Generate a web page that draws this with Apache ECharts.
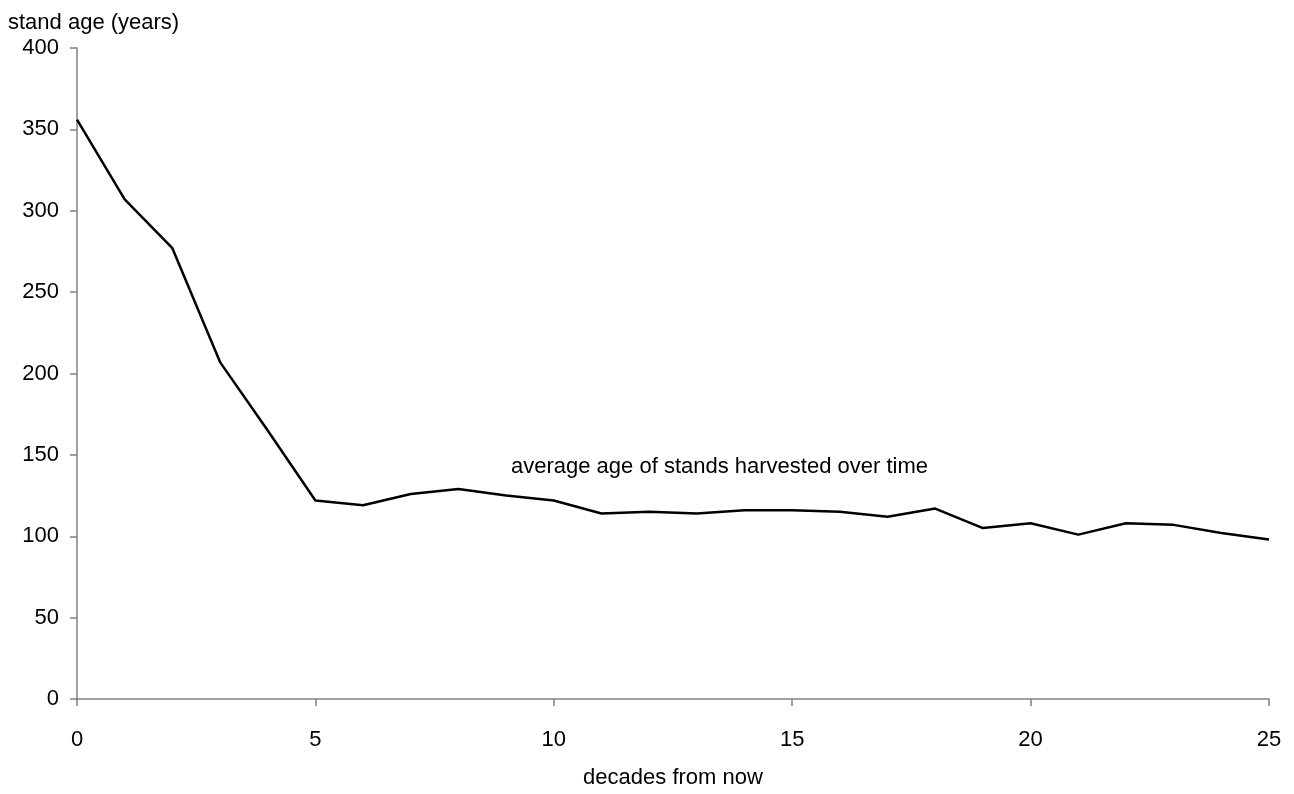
<!DOCTYPE html>
<html>
<head>
<meta charset="utf-8">
<script src="https://cdn.jsdelivr.net/npm/echarts@6/dist/echarts.min.js"></script>
<style>html,body{margin:0;padding:0;background:#fff}#c{width:1294px;height:794px}</style>
</head>
<body>
<div id="c"></div>
<script>
const decades = [0,1,2,3,4,5,6,7,8,9,10,11,12,13,14,15,16,17,18,19,20,21,22,23,24,25];
const standAge = [356,307,277,207,165,122,119,126,129,125,122,114,115,114,116,116,115,112,117,105,108,101,108,107,102,98];
const xTitle = 'decades from now';
const yTitle = 'stand age (years)';
const seriesLabel = 'average age of stands harvested over time';

const font = '"Liberation Sans", Arial, sans-serif';
const fs = 22;
const chart = echarts.init(document.getElementById('c'), null, {renderer:'canvas'});
chart.setOption({
  animation: false,
  backgroundColor: '#fff',
  grid: {left: 77, right: 25, top: 48, bottom: 92, containLabel: false},
  xAxis: {
    type: 'value', min: 0, max: 25, interval: 5,
    name: xTitle, nameLocation: 'middle', nameGap: 68,
    nameTextStyle: {color: '#000', fontSize: fs, fontFamily: font},
    axisLine: {lineStyle: {color: '#808080', width: 1.5}},
    axisTick: {show: true, length: 7, lineStyle: {color: '#808080', width: 1.5}},
    axisLabel: {color: '#000', fontSize: fs, fontFamily: font, margin: 30},
    splitLine: {show: false}
  },
  yAxis: {
    type: 'value', min: 0, max: 400, interval: 50,
    axisLine: {show: true, lineStyle: {color: '#808080', width: 1.5}},
    axisTick: {show: true, length: 7, lineStyle: {color: '#808080', width: 1.5}},
    axisLabel: {color: '#000', fontSize: fs, fontFamily: font, margin: 18},
    splitLine: {show: false}
  },
  graphic: [
    {type: 'text', left: 8, top: 12, style: {text: yTitle, fill: '#000', font: fs + 'px ' + font}},
    {type: 'text', left: 511, top: 456, style: {text: seriesLabel, fill: '#000', font: fs + 'px ' + font}}
  ],
  series: [{
    type: 'line',
    data: decades.map((d, i) => [d, standAge[i]]),
    symbol: 'none',
    lineStyle: {color: '#000', width: 2.5}
  }]
});
</script>
</body>
</html>
